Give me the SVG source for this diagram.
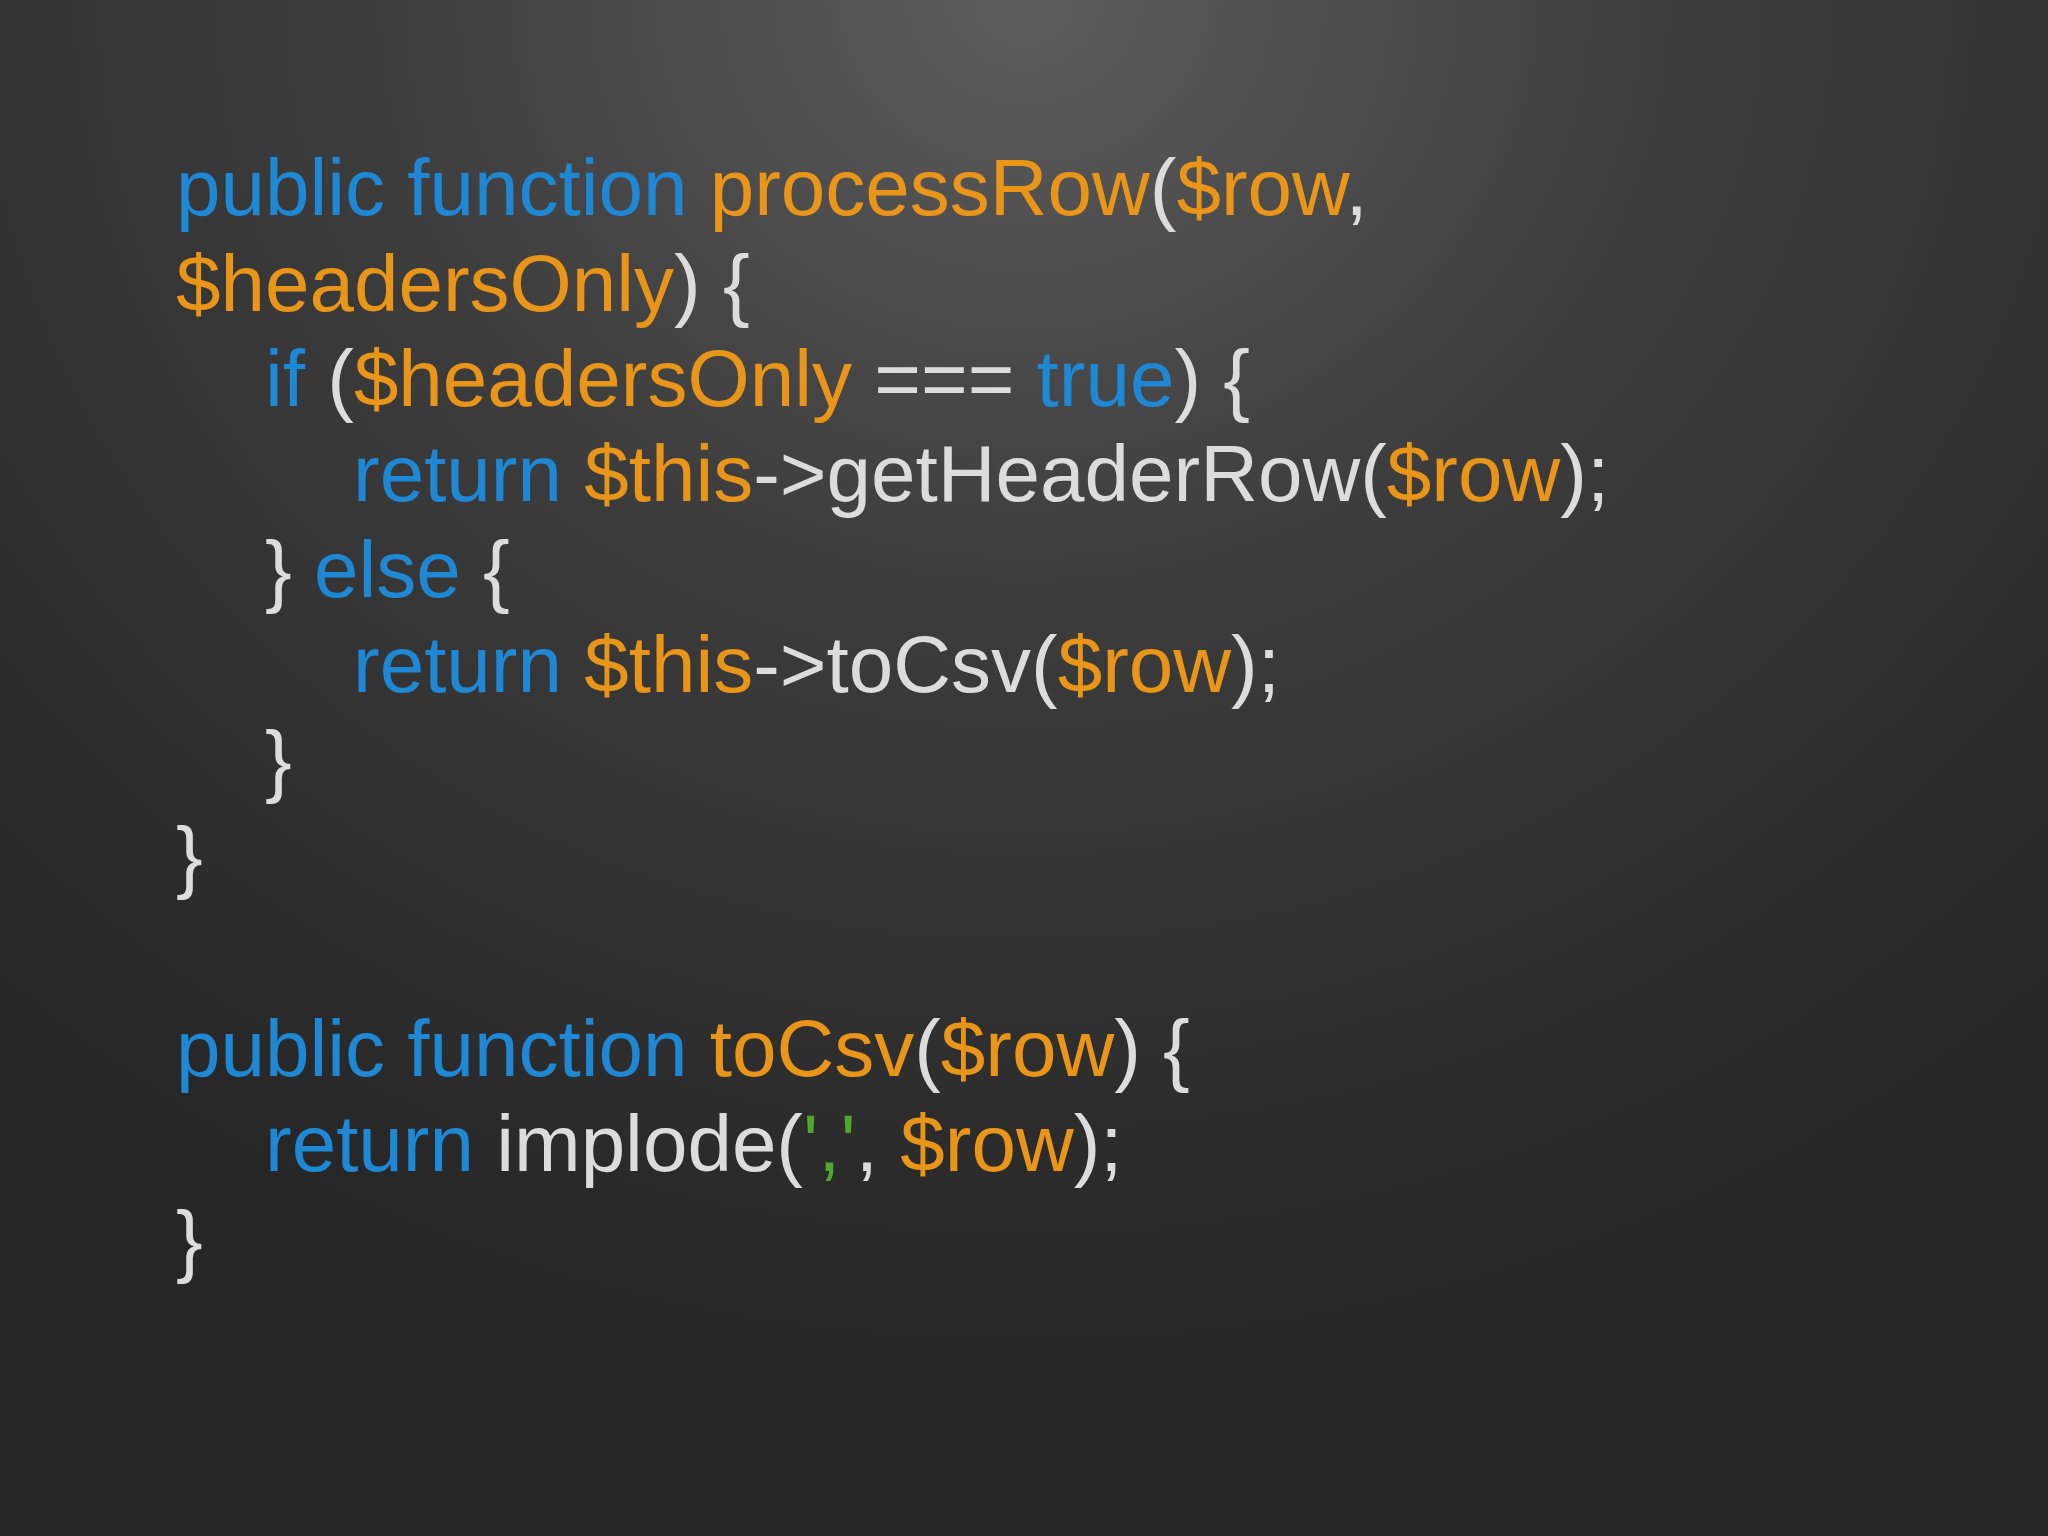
<svg xmlns="http://www.w3.org/2000/svg" width="2048" height="1536" viewBox="0 0 2048 1536">
<defs>
<radialGradient id="bg" cx="1024" cy="0" r="1500" gradientUnits="userSpaceOnUse" gradientTransform="translate(1024 0) scale(1 0.9) translate(-1024 0)">
<stop offset="0" stop-color="#5c5c5c"/>
<stop offset="0.45" stop-color="#3c3c3c"/>
<stop offset="1" stop-color="#262626"/>
</radialGradient>
<style>
text{font-family:"Liberation Sans",Arial,sans-serif;font-size:80px;fill:#dcdcdc;white-space:pre}
.k{fill:#1e88d4}.v{fill:#e8951a}.s{fill:#4ea62c}
</style>
</defs>
<rect width="2048" height="1536" fill="url(#bg)"/>
<g id="code">
<text x="176" y="215"><tspan class="k">public function </tspan><tspan class="v">processRow</tspan>(<tspan class="v">$row</tspan>,</text>
<text x="176" y="311"><tspan class="v">$headersOnly</tspan>) {</text>
<text x="265" y="406"><tspan class="k">if</tspan> (<tspan class="v">$headersOnly</tspan> === <tspan class="k">true</tspan>) {</text>
<text x="353" y="501"><tspan class="k">return </tspan><tspan class="v">$this</tspan>-&gt;getHeaderRow(<tspan class="v">$row</tspan>);</text>
<text x="265" y="597">} <tspan class="k">else</tspan> {</text>
<text x="353" y="692"><tspan class="k">return </tspan><tspan class="v">$this</tspan>-&gt;toCsv(<tspan class="v">$row</tspan>);</text>
<text x="265" y="787">}</text>
<text x="176" y="883">}</text>
<text x="176" y="1076"><tspan class="k">public function </tspan><tspan class="v">toCsv</tspan>(<tspan class="v">$row</tspan>) {</text>
<text x="265" y="1171"><tspan class="k">return</tspan> implode(<tspan class="s">','</tspan>, <tspan class="v">$row</tspan>);</text>
<text x="176" y="1267">}</text>
</g>
</svg>
